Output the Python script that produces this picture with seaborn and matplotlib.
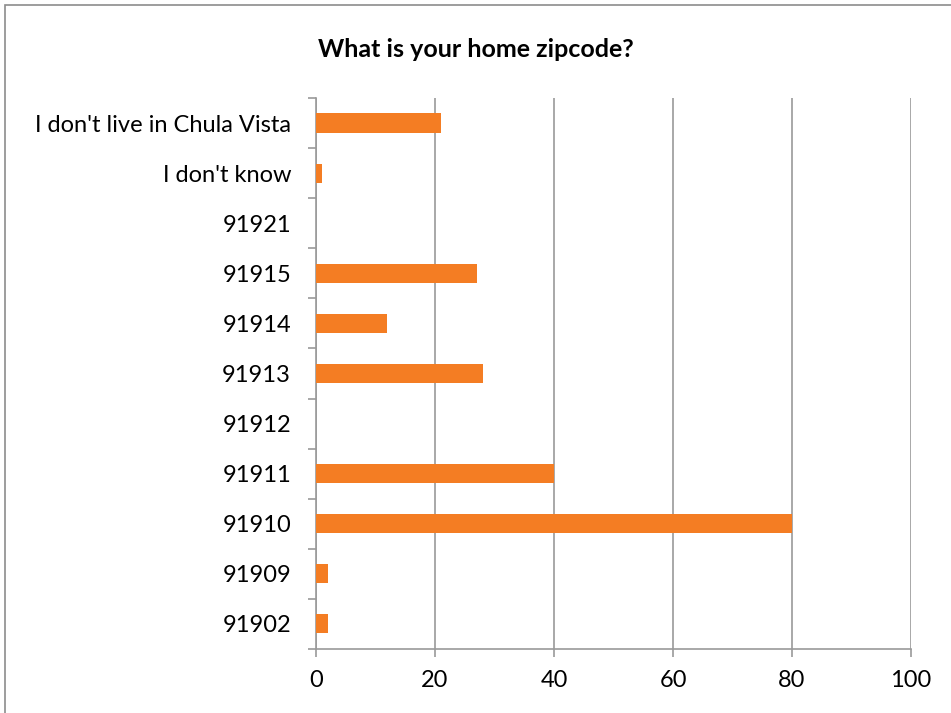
import matplotlib
matplotlib.use("Agg")
import matplotlib.pyplot as plt
from matplotlib.patches import Rectangle
from matplotlib.ticker import FixedLocator
import pandas as pd
import seaborn as sns

# survey answers, top to bottom as in the chart
zipcodes = ["I don't live in Chula Vista", "I don't know", "91921", "91915",
            "91914", "91913", "91912", "91911", "91910", "91909", "91902"]
counts = [21, 1, 0, 27, 12, 28, 0, 40, 80, 2, 2]
x_ticks = [0, 20, 40, 60, 80, 100]

df = pd.DataFrame({"zipcode": zipcodes, "count": counts})

sns.set_theme(style="white")
plt.rcParams["font.family"] = ["Lato", "DejaVu Sans"]

grid_col = "#9a9a9a"

fig = plt.figure(figsize=(9.51, 7.13), dpi=100)
ax = fig.add_axes([0.3323, 0.0898, 0.6257, 0.7728])

sns.barplot(data=df, x="count", y="zipcode", order=zipcodes, color="#F47D23",
            saturation=1, width=0.38, linewidth=0, ax=ax, zorder=3)

ax.set_xlim(0, 100)
ax.set_ylim(len(zipcodes) - 0.5, -0.5)
ax.set_xticks(x_ticks)
ax.set_xticklabels([str(v) for v in x_ticks], fontsize=17, color="black")
ax.xaxis.grid(True, color=grid_col, linewidth=1.2, zorder=0)
ax.yaxis.grid(False)
ax.set_xlabel("")
ax.set_ylabel("")

ax.tick_params(axis="x", length=6, width=1.2, color=grid_col, pad=9, bottom=True)
ax.tick_params(axis="y", which="major", length=0, labelsize=17, labelcolor="black", pad=18)
ax.yaxis.set_minor_locator(FixedLocator([i - 0.5 for i in range(len(zipcodes) + 1)]))
ax.tick_params(axis="y", which="minor", length=6, width=1.2, color=grid_col, left=True)

for side in ["top", "right"]:
    ax.spines[side].set_visible(False)
for side in ["left", "bottom"]:
    ax.spines[side].set_color(grid_col)
    ax.spines[side].set_linewidth(1.2)

fig.text(0.5, 0.93, "What is your home zipcode?", ha="center", va="center",
         fontsize=18, fontweight="bold", color="black")

# chart border (cropped on the right and bottom)
fig.patches.append(Rectangle((5 / 951, -0.05), 1.1, 1.05 - 5 / 713,
                             transform=fig.transFigure, fill=False,
                             edgecolor="#8c8c8c", linewidth=1.2))

fig.savefig("out.png", dpi=100)
